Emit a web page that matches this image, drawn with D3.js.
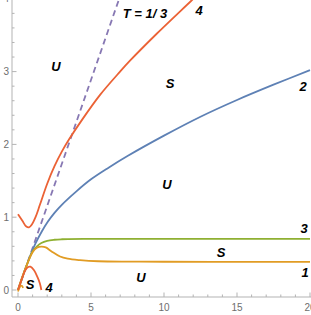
<!DOCTYPE html>
<html>
<head>
<meta charset="utf-8">
<script src="https://cdn.jsdelivr.net/npm/d3@7"></script>
<style>
  body { margin: 0; background: #fff; }
  svg { display: block; }
</style>
</head>
<body>
<svg id="chart"></svg>
<script>
// data
var curve1 = [[0, 0], [0.5, 0.29], [1.0, 0.52], [1.3, 0.58], [1.6, 0.595], [1.9, 0.585], [2.3, 0.53],
    [2.88, 0.46], [3.4, 0.43], [4.25, 0.41], [5.5, 0.395], [7.67, 0.39], [10, 0.388], [15, 0.387], [20, 0.387]];
var curve1b = [[0, -0.02], [0.12, 0.04], [0.25, 0.06], [0.35, 0.03]];
var curve2 = [[0, 0], [0.4, 0.23], [0.8, 0.45], [1.2, 0.64], [1.62, 0.8], [2.05, 0.94], [2.5, 1.06],
    [3.0, 1.17], [4.0, 1.355], [5.0, 1.52], [6.2, 1.68], [7.5, 1.84], [10, 2.12], [12.5, 2.38],
    [15, 2.61], [17.5, 2.82], [20, 3.02]];
var curve3 = [[0, 0], [0.5, 0.29], [1.0, 0.53], [1.3, 0.6], [1.6, 0.645], [2.0, 0.675], [2.5, 0.69],
    [3.0, 0.697], [3.42, 0.7], [4.5, 0.703], [7, 0.703], [12, 0.703], [20, 0.703]];
var curve4a = [[0, 1.04], [0.3, 0.95], [0.55, 0.875], [0.75, 0.86], [0.95, 0.9], [1.2, 1.0], [1.5, 1.17],
    [2.0, 1.46], [2.5, 1.7], [3.0, 1.9], [3.5, 2.07], [4.36, 2.33], [5.62, 2.68], [6.99, 3.0],
    [7.67, 3.15], [9.5, 3.52], [11.9, 3.98], [12.1, 4.02]];
var curve4b = [[0, 0], [0.3, 0.17], [0.5, 0.27], [0.7, 0.315], [0.85, 0.32], [1.1, 0.27], [1.35, 0.17],
    [1.5, 0.09], [1.6, 0.0]];
var dashed = [[0, 0], [7.05, 4.07]];

var xTicks = [0, 5, 10, 15, 20];
var yTicks = [0, 1, 2, 3, 4];

var labels = [
    {t: "T = 1/ 3", x: 145, y: 13},
    {t: "4", x: 199, y: 10},
    {t: "U", x: 56, y: 66},
    {t: "S", x: 170, y: 83},
    {t: "2", x: 303, y: 86},
    {t: "U", x: 167, y: 184},
    {t: "3", x: 304, y: 228},
    {t: "S", x: 221, y: 252},
    {t: "1", x: 305, y: 272},
    {t: "U", x: 141, y: 277},
    {t: "S", x: 30, y: 284},
    {t: "4", x: 49, y: 287}
];

var width = 311, height = 315;
var svg = d3.select("#chart").attr("width", width).attr("height", height);

var x = d3.scaleLinear().domain([0, 20]).range([18, 310]);
var y = d3.scaleLinear().domain([0, 4]).range([290, -1.2]);

var axisX = 12, axisY = 297;

// axes
var gx = svg.append("g").attr("transform", "translate(0," + axisY + ")");
gx.append("line").attr("x1", axisX).attr("x2", width).attr("stroke", "#b3b3b3").attr("stroke-width", 1);
gx.selectAll(".minor").data(d3.range(1, 21).filter(function (d) { return d % 5 !== 0; }))
    .enter().append("line")
    .attr("x1", function (d) { return x(d); }).attr("x2", function (d) { return x(d); })
    .attr("y1", 0).attr("y2", -2.5).attr("stroke", "#b3b3b3");
gx.selectAll(".major").data(xTicks).enter().append("line")
    .attr("x1", function (d) { return x(d); }).attr("x2", function (d) { return x(d); })
    .attr("y1", 0).attr("y2", -4.5).attr("stroke", "#b3b3b3");
gx.selectAll("text").data(xTicks).enter().append("text")
    .attr("x", function (d) { return x(d); }).attr("y", 14)
    .attr("text-anchor", "middle").attr("font-family", "Liberation Sans, Arial, sans-serif")
    .attr("font-size", 10).attr("fill", "#6e6e6e")
    .text(function (d) { return d; });

var gy = svg.append("g").attr("transform", "translate(" + axisX + ",0)");
gy.append("line").attr("y1", axisY).attr("y2", 0).attr("stroke", "#b3b3b3").attr("stroke-width", 1);
gy.selectAll(".minor").data(d3.range(0.2, 4.01, 0.2).filter(function (d) { return Math.abs(d - Math.round(d)) > 0.01; }))
    .enter().append("line")
    .attr("y1", function (d) { return y(d); }).attr("y2", function (d) { return y(d); })
    .attr("x1", 0).attr("x2", 2.5).attr("stroke", "#b3b3b3");
gy.selectAll(".major").data(yTicks).enter().append("line")
    .attr("y1", function (d) { return y(d); }).attr("y2", function (d) { return y(d); })
    .attr("x1", 0).attr("x2", 4.5).attr("stroke", "#b3b3b3");
gy.selectAll("text").data(yTicks).enter().append("text")
    .attr("x", -3).attr("y", function (d) { return y(d) + 3.5; })
    .attr("text-anchor", "end").attr("font-family", "Liberation Sans, Arial, sans-serif")
    .attr("font-size", 10).attr("fill", "#6e6e6e")
    .text(function (d) { return d; });

// curves
var line = d3.line()
    .x(function (d) { return x(d[0]); })
    .y(function (d) { return y(d[1]); })
    .curve(d3.curveCatmullRom.alpha(0.5));

var series = [
    {data: dashed, color: "#8778b3", dash: "6,4"},
    {data: curve2, color: "#5e81b5"},
    {data: curve3, color: "#8fb032"},
    {data: curve1, color: "#e19c24"},
    {data: curve1b, color: "#e19c24"},
    {data: curve4a, color: "#eb6235"},
    {data: curve4b, color: "#eb6235"}
];

svg.append("clipPath").attr("id", "clip").append("rect")
    .attr("x", 0).attr("y", 0).attr("width", width).attr("height", axisY);

svg.append("g").attr("clip-path", "url(#clip)")
    .selectAll("path").data(series).enter().append("path")
    .attr("d", function (d) { return line(d.data); })
    .attr("fill", "none")
    .attr("stroke", function (d) { return d.color; })
    .attr("stroke-width", 1.8)
    .attr("stroke-dasharray", function (d) { return d.dash || null; });

// region labels
svg.selectAll(".lbl").data(labels).enter().append("text")
    .attr("class", "lbl")
    .attr("x", function (d) { return d.x; })
    .attr("y", function (d) { return d.y; })
    .attr("dy", "0.35em")
    .attr("text-anchor", "middle")
    .attr("font-family", "Liberation Sans, Arial, sans-serif")
    .attr("font-size", 13).attr("font-weight", "bold").attr("font-style", "italic")
    .attr("fill", "#000")
    .text(function (d) { return d.t; });
</script>
</body>
</html>
